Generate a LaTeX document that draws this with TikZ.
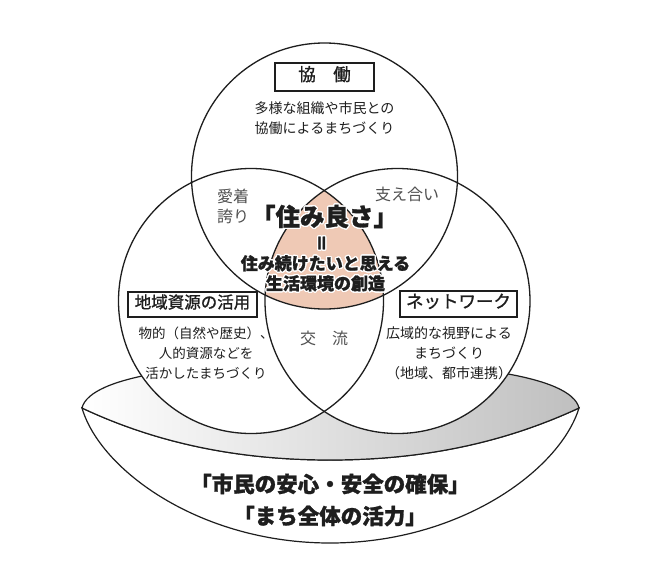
\documentclass[tikz,border=0pt]{standalone}
\usepackage{fontspec}
\setmainfont{Noto Sans CJK JP}[BoldFeatures={FakeBold=1.2}]
\newfontfamily\jpbox[FakeBold=1.2]{Noto Sans CJK JP}
\usepackage[copies]{contour}
\contourlength{1.3pt}
\contournumber{16}
\definecolor{peach}{RGB}{239,201,181}
\definecolor{ink}{RGB}{30,30,30}
\definecolor{soft}{RGB}{80,80,80}
\newcommand{\halo}[1]{\contour{white}{#1}}
\begin{document}
\begin{tikzpicture}[x=1pt,y=-1pt,
  circ/.style={line width=1.3pt, draw=ink},
  rimline/.style={line width=1.2pt, draw=ink},
  labbox/.style={draw=ink, line width=2pt, fill=white, inner sep=0pt, text=ink, text height=0.88em, text depth=0.12em},
  txt/.style={align=center, inner sep=0pt, text=ink, text height=0.88em, text depth=0.12em},
  mtxt/.style={align=center, inner sep=0pt, text=ink},
  gtxt/.style={mtxt, text=soft},
  btxt/.style={mtxt, font=\bfseries\fontsize{17}{20}\selectfont},
]
\useasboundingbox (0,0) rectangle (650,586);
% ---- bowl ----
\coordinate (L) at (82,408);
\coordinate (R) at (579,408);
\path[fill=white, rimline] (L) .. controls (100,470) and (200,543) .. (330,543)
   .. controls (460,543) and (560,470) .. (R)
   .. controls (510,440) and (430,460) .. (330,460)
   .. controls (230,460) and (150,440) .. (L) -- cycle;
\path[rimline, left color=white, right color=gray!50] (L) .. controls (90,375) and (200,362) .. (330,362)
   .. controls (460,362) and (571,375) .. (R)
   .. controls (510,440) and (430,460) .. (330,460)
   .. controls (230,460) and (150,440) .. (L) -- cycle;
% ---- circles ----
\coordinate (cT) at (324.5,176);
\coordinate (cL) at (251,301);
\coordinate (cR) at (397.5,301);
\fill[white] (cT) circle[radius=133pt];
\fill[white] (cL) circle[radius=132.5pt];
\fill[white] (cR) circle[radius=132.5pt];
\begin{scope}
  \clip (cT) circle[radius=133pt];
  \clip (cL) circle[radius=132.5pt];
  \fill[peach] (cR) circle[radius=132.5pt];
\end{scope}
\draw[circ] (cT) circle[radius=133pt];
\draw[circ] (cL) circle[radius=132.5pt];
\draw[circ] (cR) circle[radius=132.5pt];
% ---- top circle ----
\node[labbox, minimum width=99pt, minimum height=28pt, font=\jpbox\fontsize{17.5}{20}\selectfont] (kyodo) at (324.5,77) {協　働};
\node[mtxt, font=\fontsize{14}{20}\selectfont] (kyodotxt) at (324.5,118) {多様な組織や市民との\\協働によるまちづくり};
% ---- overlaps ----
\node[gtxt, font=\fontsize{16}{20}\selectfont] (aichaku) at (233,206) {愛着\\誇り};
\node[gtxt, font=\fontsize{16}{20}\selectfont] (sasae) at (407,194) {支え合い};
\node[gtxt, font=\fontsize{16}{20}\selectfont] (koryu) at (324,338) {交　流};
% ---- centre ----
\node[txt, font=\bfseries\fontsize{24.5}{28}\selectfont] (sumiyosa) at (324.5,222) {\halo{「住み良さ」}};
\node[txt, rotate=90, font=\bfseries\fontsize{18}{20}\selectfont] (equal) at (325,243) {\halo{＝}};
\node[btxt] (center) at (325.5,274) {\halo{住み続けたいと思える}\\\halo{生活環境の創造}};
% ---- left circle ----
\node[labbox, minimum width=129pt, minimum height=25pt, font=\jpbox\fontsize{16.5}{20}\selectfont] (shigen) at (192.5,304.5) {地域資源の活用};
\node[mtxt, font=\fontsize{13.5}{20}\selectfont] (shigentxt) at (206,353) {物的（自然や歴史）、\\人的資源などを\\活かしたまちづくり};
% ---- right circle ----
\node[labbox, minimum width=117pt, minimum height=26pt, font=\jpbox\fontsize{17.5}{20}\selectfont] (network) at (458.5,304) {ネットワーク};
\node[mtxt, font=\fontsize{14}{20}\selectfont] (networktxt) at (449,353) {広域的な視野による\\まちづくり\\（地域、都市連携）};
% ---- bowl text ----
\node[mtxt, font=\bfseries\fontsize{21.5}{32}\selectfont] (base) at (330,500) {「市民の安心・安全の確保」\\「まち全体の活力」};
\end{tikzpicture}
\end{document}
